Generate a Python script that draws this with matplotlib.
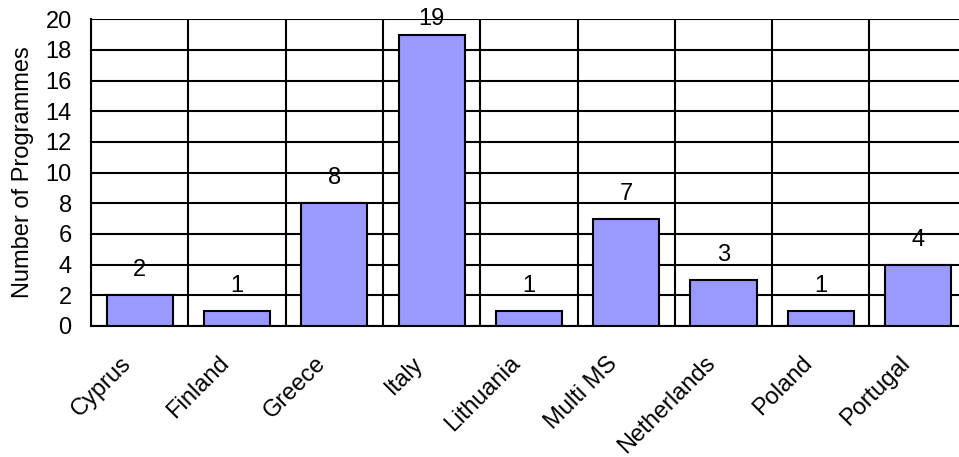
import matplotlib

matplotlib.use("Agg")
import matplotlib.pyplot as plt
import matplotlib.transforms as mtransforms
import numpy as np

countries = ["Cyprus", "Finland", "Greece", "Italy", "Lithuania",
             "Multi MS", "Netherlands", "Poland", "Portugal"]
programmes = [2, 1, 8, 19, 1, 7, 3, 1, 4]
y_ticks = [0, 2, 4, 6, 8, 10, 12, 14, 16, 18, 20]

plt.rcParams["font.family"] = ["Liberation Sans", "DejaVu Sans"]
FS = 17

fig = plt.figure(figsize=(9.59, 4.57), dpi=100)
ax = fig.add_axes([0.095, 0.287, 0.913, 0.671])

x = np.arange(len(countries))
ax.bar(x, programmes, width=0.68, color="#9999FF", edgecolor="black",
       linewidth=1.5, zorder=3)

ymax = 20
for xi, v in zip(x, programmes):
    ax.text(xi, min(v + 0.9, ymax - 0.7), str(v), ha="center", va="bottom",
            fontsize=FS, zorder=4)

ax.set_xlim(-0.5, len(countries) - 0.5)
ax.set_ylim(0, ymax)
ax.set_yticks(y_ticks)
ax.set_xticks(x)
ax.set_xticklabels(countries, rotation=45, ha="right", rotation_mode="anchor")
ax.set_xticks(np.arange(len(countries) + 1) - 0.5, minor=True)
ax.tick_params(axis="x", which="both", length=0, labelsize=FS, pad=19)
ax.tick_params(axis="y", length=0, labelsize=FS, pad=14)

# nudge category labels left, like the original
shift = mtransforms.ScaledTranslation(-14 / 72, 0, fig.dpi_scale_trans)
for lbl in ax.get_xticklabels():
    lbl.set_transform(lbl.get_transform() + shift)

ax.grid(axis="y", which="major", color="black", linewidth=1.5, zorder=1)
ax.grid(axis="x", which="minor", color="black", linewidth=1.5, zorder=1)
ax.grid(axis="x", which="major", visible=False)
ax.set_axisbelow(True)

for side in ["top", "right"]:
    ax.spines[side].set_visible(False)
for side in ["left", "bottom"]:
    ax.spines[side].set_linewidth(1.5)

ax.set_ylabel("Number of Programmes", fontsize=FS, labelpad=8)

fig.savefig("out.png", dpi=100)
